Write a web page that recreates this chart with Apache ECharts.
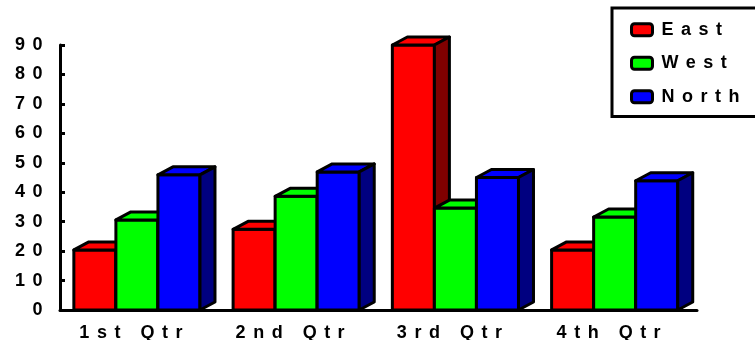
<!DOCTYPE html>
<html>
<head>
<meta charset="utf-8">
<script src="https://cdn.jsdelivr.net/npm/echarts@6/dist/echarts.min.js"></script>
<style>
  html, body { margin: 0; padding: 0; background: #fff; }
  #chart { width: 755px; height: 340px; }
</style>
</head>
<body>
<div id="chart"></div>
<script>
// ---- data ----
const categories = ['1st Qtr', '2nd Qtr', '3rd Qtr', '4th Qtr'];
const seriesNames = ['East', 'West', 'North'];
const east = [20.4, 27.4, 90, 20.4];
const west = [30.6, 38.6, 34.6, 31.6];
const north = [45.9, 46.9, 45, 43.9];
const yMin = 0, yMax = 90, yStep = 10;

// ---- styles ----
const frontColors = ['#ff0000', '#00ff00', '#0000ff'];
const sideColors = ['#800000', '#008000', '#000080'];
const FONT = '"Liberation Sans", Arial, sans-serif';
const SPACING = '7.5px';

// letter-spaced text, as in the reference
(function () {
  const P = CanvasRenderingContext2D.prototype;
  const m = P.measureText, f = P.fillText, s = P.strokeText;
  P.measureText = function (t) { this.letterSpacing = SPACING; return m.call(this, t); };
  P.fillText = function () { this.letterSpacing = SPACING; return f.apply(this, arguments); };
  P.strokeText = function () { this.letterSpacing = SPACING; return s.apply(this, arguments); };
})();

const DX = 15, DY = 8;

function makeRender(sIdx) {
  return function (params, api) {
    const cat = api.value(0);
    const v = api.value(1);
    const top = api.coord([cat, v]);
    const base = api.coord([cat, 0]);
    const band = api.size([1, 0])[0];
    const bw = band * 0.264;
    const x0 = top[0] - band * 0.413 + sIdx * bw;
    const yt = top[1], yb = base[1];
    const st = { stroke: '#000', lineWidth: 3, lineJoin: 'round' };
    return {
      type: 'group',
      children: [
        { type: 'rect', shape: { x: x0, y: yt, width: bw, height: yb - yt },
          style: Object.assign({ fill: frontColors[sIdx] }, st) },
        { type: 'polygon', shape: { points: [[x0, yt], [x0 + DX, yt - DY], [x0 + bw + DX, yt - DY], [x0 + bw, yt]] },
          style: Object.assign({ fill: frontColors[sIdx] }, st) },
        { type: 'polygon', shape: { points: [[x0 + bw, yt], [x0 + bw + DX, yt - DY], [x0 + bw + DX, yb - DY], [x0 + bw, yb]] },
          style: Object.assign({ fill: sideColors[sIdx] }, st) }
      ]
    };
  };
}

const values = [east, west, north];
const series = seriesNames.map(function (name, i) {
  return {
    name: name,
    type: 'custom',
    renderItem: makeRender(i),
    itemStyle: { color: frontColors[i] },
    encode: { x: 0, y: 1 },
    data: values[i].map(function (v, c) { return [c, v]; }),
    z: 2 + i
  };
});

const chart = echarts.init(document.getElementById('chart'), null, { renderer: 'canvas' });
chart.setOption({
  animation: false,
  backgroundColor: '#fff',
  grid: { left: 60, right: 58, top: 45, bottom: 30, containLabel: false, outerBoundsMode: 'none' },
  legend: {
    orient: 'vertical',
    left: 612,
    top: 8,
    padding: [9, 14, 7, 18],
    itemGap: 8,
    itemWidth: 21,
    itemHeight: 12,
    icon: 'roundRect',
    borderColor: '#000',
    borderWidth: 3,
    backgroundColor: '#fff',
    itemStyle: { borderColor: '#000', borderWidth: 3 },
    textStyle: { color: '#000', fontSize: 18, fontWeight: 'bold', fontFamily: FONT, padding: [0, 0, 0, 4] },
    data: seriesNames
  },
  xAxis: {
    type: 'category',
    data: categories,
    axisLine: { lineStyle: { color: '#000', width: 3 } },
    axisTick: { show: false },
    axisLabel: { color: '#000', fontSize: 18, fontWeight: 'bold', fontFamily: FONT, margin: 10, interval: 0, padding: [0, 10, 0, 0] },
    splitLine: { show: false }
  },
  yAxis: {
    type: 'value',
    min: yMin, max: yMax, interval: yStep,
    axisLine: { show: true, lineStyle: { color: '#000', width: 3 } },
    axisTick: { show: true, inside: true, length: 5, lineStyle: { color: '#000', width: 3 } },
    axisLabel: { color: '#000', fontSize: 18, fontWeight: 'bold', fontFamily: FONT, margin: 10, padding: [7, 0, 0, 0] },
    splitLine: { show: false }
  },
  series: series
});
</script>
</body>
</html>
